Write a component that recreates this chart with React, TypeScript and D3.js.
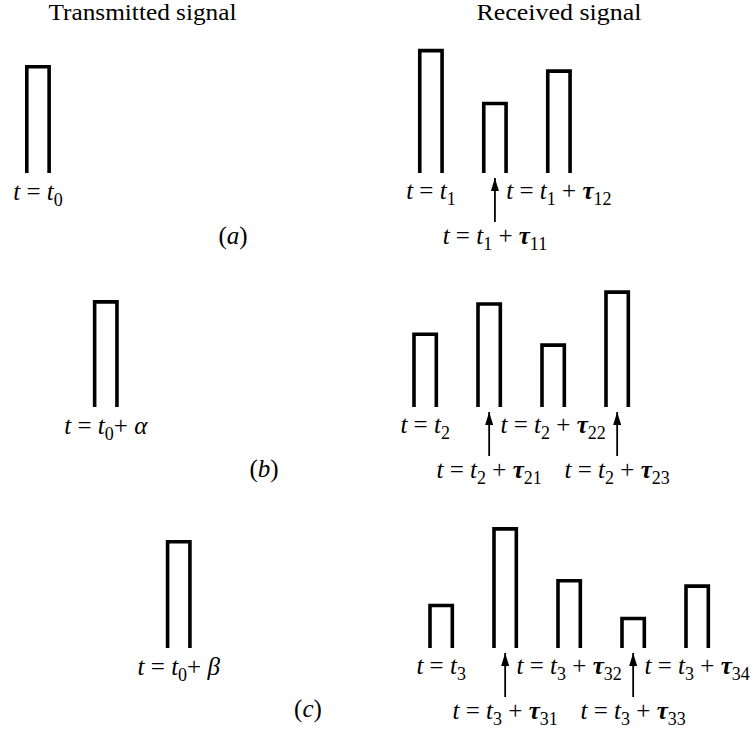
import React from "react";
import * as d3 from "d3";

// Layout of the three cases (a), (b), (c)
const rowNames = ["a", "b", "c"];
const rowBaselines = [173, 407, 648];
const rowTagX = [233, 264, 308];
const rowTagY = [244, 477, 717];

// Transmitted pulse start (time units) and amplitude per row
const transmittedStart = [0, 1.06, 2.2];
const transmittedAmp = [1.0, 0.99, 1.0];
const transmittedLabel = [
  { base: "0", extra: null },
  { base: "0", extra: "α" },
  { base: "0", extra: "β" },
];

// Received pulses: first arrival time (time units) and amplitude of each echo
const receivedStart = [6.14, 6.05, 6.3];
const receivedDelays = [
  [0, 1, 2],
  [0, 1, 2, 3],
  [0, 1, 2, 3, 4],
];
const receivedAmp = [
  [1.15, 0.66, 0.96],
  [0.69, 0.97, 0.59, 1.08],
  [0.41, 1.12, 0.64, 0.29, 0.59],
];

const titles = ["Transmitted signal", "Received signal"];
const titleX = [142.5, 559];
const titleWidth = [188, 165];

const W = 755;
const H = 731;
const pulseWidth = 0.405; // in time units
const sw = 3.6;

const x = d3.scaleLinear().domain([0, 11]).range([25, 25 + 704]);
const amp = d3.scaleLinear().domain([0, 1]).range([0, 108]);

const FONT = "Liberation Serif, DejaVu Serif, serif";
const FS = 25;
const SUB = 18;

function pulsePath(t: number, a: number, base: number) {
  const x0 = x(t) + sw / 2;
  const x1 = x(t + pulseWidth) - sw / 2;
  const top = base - amp(a) + sw / 2;
  const p = d3.path();
  p.moveTo(x0, base);
  p.lineTo(x0, top);
  p.lineTo(x1, top);
  p.lineTo(x1, base);
  return p.toString();
}

function Label({ cx, y, sub, tauSub, extra }: { cx: number; y: number; sub: string; tauSub?: string; extra?: string | null }) {
  return (
    <text x={cx} y={y} textAnchor="middle" style={{ fontFamily: FONT }} fontSize={FS} fill="#000">
      <tspan fontStyle="italic">t</tspan>
      <tspan> = </tspan>
      <tspan fontStyle="italic">t</tspan>
      <tspan fontSize={SUB} dy={6}>{sub}</tspan>
      {tauSub !== undefined && (
        <>
          <tspan dy={-6}> + </tspan>
          <tspan fontStyle="italic" fontWeight="bold">τ</tspan>
          <tspan fontSize={SUB} dy={6}>{tauSub}</tspan>
        </>
      )}
      {extra && (
        <>
          <tspan dy={-6}>+ </tspan>
          <tspan fontStyle="italic">{extra}</tspan>
        </>
      )}
    </text>
  );
}

export default function App() {
  return (
    <svg width={W} height={H} style={{ position: "absolute", left: 0, top: 0, background: "#fff" }}>
      <defs>
        <marker id="head" viewBox="0 0 13 8" refX="13" refY="4" markerWidth="13" markerHeight="8"
          markerUnits="userSpaceOnUse" orient="auto">
          <path d="M0,0 L13,4 L0,8 z" fill="#000" />
        </marker>
      </defs>
      <rect width={W} height={H} fill="#fff" />
      {titles.map((t, i) => (
        <text key={t} x={titleX[i]} y={20} textAnchor="middle" style={{ fontFamily: FONT }} fontSize={23}
          textLength={titleWidth[i]} lengthAdjust="spacingAndGlyphs">
          {t}
        </text>
      ))}
      {rowNames.map((name, r) => {
        const base = rowBaselines[r];
        const tc = transmittedStart[r] + pulseWidth / 2;
        const start = receivedStart[r];
        return (
          <g key={name}>
            <path d={pulsePath(transmittedStart[r], transmittedAmp[r], base)} fill="none" stroke="#000" strokeWidth={sw} />
            <Label cx={x(tc)} y={base + 27} sub={transmittedLabel[r].base} extra={transmittedLabel[r].extra} />
            {receivedDelays[r].map((d, k) => {
              const t = start + d;
              const cx = x(t + pulseWidth / 2);
              const low = k % 2 === 1;
              const sub = String(r + 1);
              return (
                <g key={k}>
                  <path d={pulsePath(t, receivedAmp[r][k], base)} fill="none" stroke="#000" strokeWidth={sw} />
                  {low && (
                    <line x1={cx} x2={cx} y1={base + 49} y2={base + 5} stroke="#000" strokeWidth={1.8} markerEnd="url(#head)" />
                  )}
                  <Label cx={cx} y={low ? base + 71 : base + 26} sub={sub}
                    tauSub={k === 0 ? undefined : `${r + 1}${k}`} />
                </g>
              );
            })}
            <text x={rowTagX[r]} y={rowTagY[r]} textAnchor="middle" style={{ fontFamily: FONT }} fontSize={FS}>
              (<tspan fontStyle="italic">{name}</tspan>)
            </text>
          </g>
        );
      })}
    </svg>
  );
}
